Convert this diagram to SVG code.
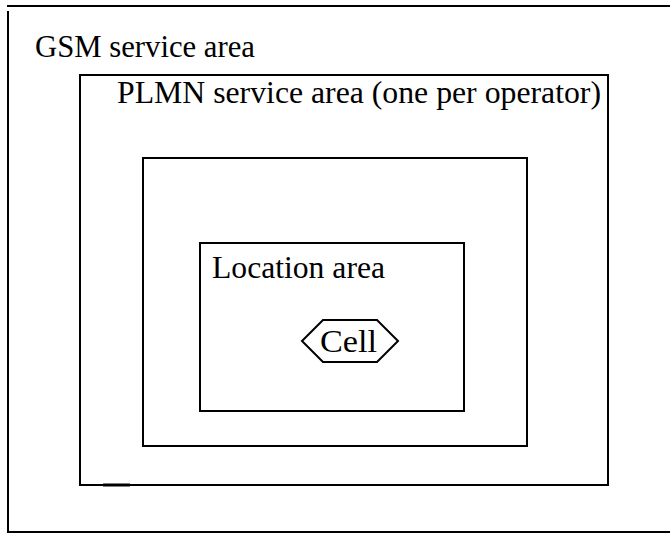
<svg xmlns="http://www.w3.org/2000/svg" width="670" height="535" viewBox="0 0 670 535">
<style>
.ln{fill:none;stroke:#000;stroke-width:2}
.t{font-family:"Liberation Serif","Times New Roman",serif;font-size:31px;fill:#000}
</style>
<rect width="670" height="535" fill="#fff"/>
<g id="gsm">
<path class="ln" d="M7,6 H670 M8,11 V532 H670"/>
<text class="t" x="35" y="57" textLength="220" lengthAdjust="spacingAndGlyphs">GSM service area</text>
</g>
<g id="plmn">
<rect class="ln" x="80" y="75" width="528" height="410"/>
<path d="M103,485 H130" stroke="#000" stroke-width="3"/>
<text class="t" x="117" y="103" textLength="484" lengthAdjust="spacingAndGlyphs">PLMN service area (one per operator)</text>
</g>
<g id="inner">
<rect class="ln" x="143" y="158" width="384" height="288"/>
</g>
<g id="location">
<rect class="ln" x="200" y="243" width="264" height="168"/>
<text class="t" x="212" y="278" textLength="173" lengthAdjust="spacingAndGlyphs">Location area</text>
</g>
<g id="cell">
<polygon class="ln" points="302,341 323,320 377,320 398,341 377,362 323,362"/>
<text class="t" x="320" y="352" textLength="57" lengthAdjust="spacingAndGlyphs">Cell</text>
</g>
<g id="connectors"></g>
</svg>
